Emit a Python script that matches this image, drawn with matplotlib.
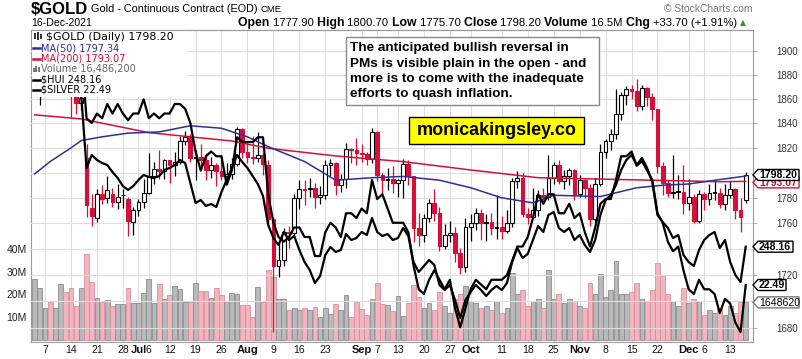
import matplotlib
matplotlib.use('Agg')
import matplotlib.pyplot as plt
from matplotlib.patches import Rectangle, Polygon
from matplotlib.ticker import FixedLocator, NullLocator
import pandas as pd

plt.rcParams['font.family'] = ['Liberation Sans', 'DejaVu Sans']

# trading days on the chart (exchange holidays removed)
dates = pd.bdate_range('2021-06-03', '2021-12-16')
dates = dates.drop(pd.to_datetime(['2021-07-05', '2021-09-06', '2021-11-25']))

opens = [1908, 1872, 1892, 1899, 1895, 1896, 1898, 1879, 1866, 1857,
         1812, 1772, 1764, 1783, 1780, 1783, 1777, 1782, 1779, 1761,
         1770, 1777, 1784, 1797, 1803, 1801, 1810, 1806, 1809, 1826,
         1829, 1812, 1813, 1810, 1802, 1806, 1801, 1797, 1799, 1807,
         1835, 1817, 1813, 1812, 1814, 1806, 1763, 1727, 1731, 1753,
         1752, 1780, 1787, 1787, 1788, 1781, 1782, 1806, 1808, 1790,
         1795, 1819, 1818, 1816, 1815, 1811, 1833, 1798, 1794, 1795,
         1792, 1794, 1807, 1797, 1756, 1751, 1764, 1776, 1768, 1742,
         1751, 1752, 1737, 1726, 1757, 1760, 1768, 1760, 1761, 1756,
         1757, 1754, 1760, 1793, 1796, 1767, 1765, 1770, 1782, 1781,
         1796, 1806, 1793, 1797, 1802, 1783, 1794, 1788, 1763, 1791,
         1817, 1826, 1831, 1848, 1863, 1868, 1867, 1854, 1869, 1862,
         1852, 1805, 1792, 1784, 1785, 1785, 1776, 1781, 1762, 1783,
         1779, 1784, 1784, 1775, 1782, 1787, 1770, 1777.9]
highs = [1910, 1894, 1903, 1904, 1903, 1904, 1900, 1881, 1869, 1866,
         1823, 1783, 1787, 1790, 1797, 1788, 1791, 1787, 1781, 1773,
         1779, 1795, 1816, 1809, 1818, 1811, 1810, 1817, 1830, 1834,
         1831, 1818, 1823, 1816, 1813, 1808, 1813, 1808, 1812, 1837,
         1836, 1824, 1830, 1833, 1816, 1810, 1765, 1745, 1756, 1758,
         1783, 1794, 1794, 1796, 1792, 1789, 1810, 1811, 1809, 1799,
         1824, 1820, 1828, 1823, 1817, 1836, 1834, 1800, 1804, 1805,
         1795, 1811, 1810, 1797, 1768, 1767, 1779, 1787, 1773, 1759,
         1762, 1757, 1741, 1764, 1767, 1772, 1771, 1767, 1768, 1782,
         1766, 1770, 1796, 1801, 1800, 1772, 1788, 1786, 1788, 1814,
         1809, 1810, 1802, 1804, 1803, 1798, 1795, 1791, 1796, 1823,
         1827, 1835, 1868, 1866, 1871, 1872, 1877, 1872, 1870, 1865,
         1852, 1809, 1794, 1814, 1798, 1806, 1795, 1783, 1786, 1785,
         1791, 1794, 1788, 1791, 1793, 1788, 1780, 1800.7]
lows = [1868, 1855, 1884, 1887, 1887, 1879, 1873, 1845, 1848, 1851,
        1765, 1758, 1761, 1775, 1776, 1773, 1771, 1772, 1750, 1751,
        1766, 1772, 1783, 1791, 1795, 1795, 1792, 1797, 1807, 1822,
        1809, 1794, 1805, 1794, 1796, 1789, 1794, 1791, 1795, 1805,
        1812, 1808, 1807, 1809, 1798, 1758, 1677, 1718, 1727, 1741,
        1750, 1771, 1774, 1781, 1772, 1775, 1779, 1797, 1782, 1785,
        1788, 1808, 1806, 1809, 1806, 1808, 1793, 1781, 1786, 1784,
        1781, 1780, 1790, 1745, 1742, 1745, 1761, 1762, 1738, 1740,
        1745, 1730, 1721, 1722, 1746, 1755, 1747, 1746, 1751, 1748,
        1748, 1752, 1757, 1788, 1765, 1759, 1764, 1766, 1776, 1778,
        1791, 1791, 1787, 1790, 1778, 1781, 1780, 1758, 1761, 1789,
        1812, 1818, 1827, 1843, 1855, 1860, 1850, 1851, 1854, 1843,
        1800, 1782, 1781, 1780, 1779, 1767, 1770, 1760, 1760, 1770,
        1774, 1778, 1772, 1770, 1780, 1763, 1753, 1775.7]
closes = [1873, 1892, 1899, 1894, 1896, 1900, 1879, 1866, 1857, 1861,
          1774, 1766, 1783, 1779, 1786, 1777, 1781, 1782, 1762, 1770,
          1777, 1784, 1797, 1803, 1801, 1810, 1806, 1809, 1826, 1829,
          1812, 1813, 1810, 1802, 1806, 1801, 1797, 1799, 1807, 1835,
          1817, 1813, 1812, 1814, 1807, 1763, 1727, 1731, 1753, 1752,
          1780, 1787, 1786, 1788, 1781, 1782, 1806, 1808, 1790, 1795,
          1819, 1818, 1816, 1815, 1811, 1833, 1798, 1794, 1795, 1792,
          1794, 1807, 1797, 1756, 1751, 1764, 1776, 1768, 1742, 1751,
          1752, 1737, 1726, 1757, 1760, 1768, 1760, 1761, 1756, 1757,
          1754, 1760, 1793, 1796, 1767, 1765, 1770, 1782, 1781, 1796,
          1806, 1793, 1797, 1802, 1783, 1794, 1788, 1763, 1791, 1817,
          1826, 1831, 1848, 1863, 1868, 1867, 1854, 1869, 1862, 1852,
          1805, 1792, 1784, 1785, 1785, 1776, 1781, 1762, 1783, 1779,
          1784, 1784, 1775, 1782, 1787, 1770, 1764.5, 1798.2]
volume_m = [27, 23, 14, 16.6, 14, 24.5, 21, 23, 15, 23,
            38, 25.4, 18.4, 16.6, 17.5, 15, 15.7, 15.7, 23, 16.3,
            16.3, 20.5, 27, 16.3, 24.5, 18, 19.7, 23.8, 22.3, 16.6,
            16.6, 25, 21.5, 21.5, 18.5, 23, 19.7, 17.2, 20.7, 20,
            15.3, 15.3, 10, 23.4, 16.6, 30.7, 27.8, 18, 18, 13,
            14, 13, 14, 13, 14.5, 10, 14, 11.3, 15.7, 13,
            19.8, 10, 16.6, 13.7, 11, 18, 25, 15.7, 15.3, 12.8,
            19.3, 10.5, 16, 24, 19, 14, 16, 13, 21, 15,
            12, 18, 20, 23.8, 17, 16, 14, 15, 13, 17,
            12, 14, 29.4, 20, 22, 15, 17, 18, 14, 30.6,
            18, 20, 16, 18, 17, 15, 14, 25, 20, 29,
            19, 22, 34.6, 20, 20, 21, 25, 18, 17, 22,
            34, 28, 20, 17, 15, 23, 16, 18, 17, 11,
            13, 12, 14, 11, 15, 12, 16.5, 16.486]

# moving averages (bar index, value)
ma50_idx = [0, 3, 7, 9, 13, 18, 24, 30, 36, 41, 45, 52, 58, 65, 71, 78, 84, 90, 96,
            100, 109, 116, 121, 126, 132, 137]
ma50_val = [1799, 1809, 1820, 1826, 1829, 1832, 1833, 1838, 1836, 1829, 1821, 1809,
            1794, 1796, 1797, 1794, 1788, 1780, 1776, 1782, 1781, 1788, 1790, 1791,
            1794.5, 1797.34]
ma200_idx = [0, 9, 22, 30, 38, 45, 58, 71, 84, 97, 132, 137]
ma200_val = [1847, 1843.6, 1832.4, 1829, 1825.6, 1819.7, 1813.5, 1808.9, 1802.2,
             1796, 1792.8, 1793.07]

hui = [334, 336, 335, 333, 332, 333, 330, 328, 325, 323,
       287.5, 294, 291.5, 290, 289, 285.5, 282.5, 278.5, 276.5, 278.5,
       281.5, 284, 283, 282.5, 283.5, 286.5, 287.5, 289, 291.5, 290,
       280, 270, 271.5, 268.5, 269.5, 268, 275.5, 281.5, 287.5, 294,
       290.5, 287.5, 283.5, 279.5, 273.5, 259, 252.5, 249, 255.5, 251.5,
       253.5, 246.5, 240.5, 236.5, 230, 233.5, 244, 248, 245.5, 246.5,
       254.5, 251.5, 252.5, 255.5, 254, 262.5, 255.5, 253.5, 254.5, 251.5,
       252.5, 257.5, 253.5, 240.5, 235.5, 238.5, 241.5, 239, 229, 226.5,
       229, 221.5, 212.5, 221.5, 225.5, 229, 226.5, 223.5, 226.5, 228.5,
       226.5, 230, 240.5, 247.5, 242.5, 244.5, 251.5, 258.5, 255.5, 264,
       265.5, 257.5, 255.5, 257.5, 251.5, 254, 249, 245.5, 251.5, 264,
       271.5, 274, 279, 286.5, 291.5, 294, 289, 292.5, 287.5, 280.5,
       264, 260.5, 257.5, 252.5, 254, 244, 240.5, 238.5, 246.5, 251.5,
       254, 255.5, 247.5, 251.5, 240.5, 234, 230.5, 248.16]
silver = [27.5, 27.9, 27.9, 27.7, 27.7, 28.0, 27.9, 27.9, 27.6, 27.4,
          26.0, 25.9, 26.1, 26.0, 26.3, 26.1, 26.3, 26.1, 25.96, 26.1,
          26.1, 26.4, 26.0, 26.1, 26.0, 26.1, 26.1, 26.3, 26.3, 26.2,
          25.9, 25.3, 24.9, 25.2, 25.3, 25.2, 25.2, 24.6, 24.9, 25.6,
          25.5, 25.5, 25.5, 25.6, 25.6, 24.4, 23.8, 23.5, 23.4, 23.5,
          23.7, 23.7, 23.5, 23.5, 23.1, 23.1, 23.6, 23.8, 23.7, 23.5,
          24.0, 24.0, 23.9, 24.1, 24.0, 24.7, 24.3, 24.4, 24.1, 23.8,
          23.8, 23.8, 23.6, 22.9, 22.4, 22.3, 22.6, 22.8, 22.6, 22.4,
          22.6, 22.0, 21.6, 22.0, 22.4, 22.6, 22.5, 22.4, 22.6, 22.6,
          22.6, 22.7, 23.0, 23.3, 23.3, 23.5, 23.9, 24.4, 24.2, 24.4,
          24.4, 24.0, 24.0, 24.2, 23.9, 24.0, 23.6, 23.3, 23.7, 24.2,
          24.3, 24.3, 24.7, 25.2, 25.2, 25.3, 25.0, 25.1, 24.9, 24.7,
          24.0, 23.8, 23.4, 23.2, 23.3, 22.8, 22.4, 22.3, 22.6, 22.4,
          22.4, 22.3, 21.9, 22.2, 22.1, 21.7, 21.5, 22.49]

price_ticks = list(range(1680, 1901, 20))
hidden_ticks = [1800, 1740, 1700]   # covered by the value tags
vol_ticks = [10, 20, 30, 40]

W, H = 803, 359
L, R, T, B = 31, 753, 30, 342
RED = '#d4103a'
BLUE = '#2e2e9a'

fig = plt.figure(figsize=(W / 100, H / 100), dpi=100)
rect = [L / W, 1 - B / H, (R - L) / W, (B - T) / H]
ax_vol = fig.add_axes(rect)
ax = fig.add_axes(rect, sharex=ax_vol)
ax_hui = fig.add_axes(rect, sharex=ax_vol)
ax_slv = fig.add_axes(rect, sharex=ax_vol)
for a in (ax, ax_hui, ax_slv):
    a.patch.set_visible(False)
for a in (ax_vol, ax, ax_hui, ax_slv):
    for s in a.spines.values():
        s.set_visible(a is ax_vol)
        s.set_color('#9a9a9a')
        s.set_linewidth(0.8)

n = len(closes)
x = list(range(n))
up = [True] + [closes[i] >= closes[i - 1] for i in range(1, n)]

# volume
vcol = ['#b9b9b9' if u else '#f2b5c0' for u in up]
vedge = ['#8c8c8c' if u else '#d98e9c' for u in up]
ax_vol.bar(x, volume_m, width=0.92, color=vcol, edgecolor=vedge, linewidth=0.6, zorder=2)
ax_vol.set_ylim(-1.0, 136.6)
ax_vol.yaxis.set_major_locator(FixedLocator(vol_ticks))
ax_vol.set_yticklabels([f'{v}M' for v in vol_ticks])
ax_vol.tick_params(axis='y', length=0, pad=3, labelsize=7.5, labelcolor='#222222')
ax_vol.set_xlim(-0.7, 138.4)

# x ticks: week starts and month starts
month_i = [i for i in range(1, n) if dates[i].month != dates[i - 1].month]
week_i = [i for i in range(1, n) if dates[i].isocalendar()[1] != dates[i - 1].isocalendar()[1]]
ticks, labels, bolds = [], [], []
for i in sorted(set(month_i) | set(week_i)):
    if i in month_i:
        ticks.append(i); labels.append(dates[i].strftime('%b')); bolds.append(True)
        continue
    near = any(0 < m - i <= 2 or 0 <= i - m < 2 for m in month_i)
    if not near:
        ticks.append(i); labels.append(str(dates[i].day)); bolds.append(False)
ax_vol.xaxis.set_major_locator(FixedLocator(ticks))
ax_vol.set_xticklabels(labels)
for lab, b in zip(ax_vol.get_xticklabels(), bolds):
    lab.set_fontweight('bold' if b else 'normal')
    lab.set_fontsize(8 if b else 7.5)
ax_vol.tick_params(axis='x', length=0, pad=2, labelcolor='#111111')
ax_vol.grid(axis='x', color='#dedede', linewidth=0.8, zorder=0)
ax_vol.set_axisbelow(True)

# price
ax.set_yscale('log')
ax.set_ylim(1669.3, 1918.1)
ax.yaxis.set_major_locator(FixedLocator(price_ticks))
ax.yaxis.set_minor_locator(NullLocator())
ax.set_yticklabels(['' if p in hidden_ticks else str(p) for p in price_ticks])
ax.yaxis.tick_right()
ax.tick_params(axis='y', length=3, width=0.6, color='#9a9a9a', pad=14, labelsize=7, labelcolor='#333333')
ax.tick_params(axis='x', bottom=False, labelbottom=False)
ax.grid(axis='y', color='#dedede', linewidth=0.8, zorder=0)

for i in range(n):
    c = '#000000' if up[i] else RED
    ax.vlines(i, lows[i], highs[i], color=c, linewidth=0.9, zorder=3)
    lo, hi = min(opens[i], closes[i]), max(opens[i], closes[i])
    if hi - lo < 0.6:
        hi = lo + 0.6
    filled = closes[i] < opens[i]
    ax.add_patch(Rectangle((i - 0.36, lo), 0.72, hi - lo, facecolor=c if filled else 'white',
                           edgecolor=c, linewidth=0.8, zorder=4))

ax.plot(ma200_idx, ma200_val, color=RED, linewidth=1.1, zorder=5)
ax.plot(ma50_idx, ma50_val, color=BLUE, linewidth=1.1, zorder=5)

# overlays with their own scales
ax_hui.set_ylim(200.5, 356.5)
ax_slv.set_ylim(22.49 - (B - 285) / 47.5, 22.49 + (285 - T) / 47.5)
ax_hui.plot(x, hui, color='black', linewidth=1.6, zorder=6)
ax_slv.plot(x, silver, color='black', linewidth=1.6, zorder=6)
for a in (ax_hui, ax_slv):
    a.set_yticks([])
    a.tick_params(axis='x', bottom=False, labelbottom=False)

# overlay in pixel coordinates for header, legend, notes and tags
ov = fig.add_axes([0, 0, 1, 1])
ov.set_xlim(0, W)
ov.set_ylim(H, 0)
ov.axis('off')
ov.patch.set_visible(False)
rend = fig.canvas.get_renderer()


def pix_y(a, v):
    return H - a.transData.transform((0, v))[1]


def run(x0, y0, parts):
    for s, kw in parts:
        t = ov.text(x0, y0, s, va='center', ha='left', **kw)
        x0 += t.get_window_extent(renderer=rend).width
    return x0


# header
run(31, 9.5, [('$GOLD', dict(fontsize=12, fontweight='bold')),
              (' Gold - Continuous Contract (EOD) ', dict(fontsize=7.8)),
              ('CME', dict(fontsize=6.8))])
ov.text(31, 23, '16-Dec-2021', fontsize=7.6, va='center', ha='left')
bold8 = dict(fontsize=8.8, fontweight='bold')
reg = dict(fontsize=8.1)
run(238, 23, [('Open ', bold8), ('1777.90 ', reg), ('High ', bold8), ('1800.70 ', reg),
              ('Low ', bold8), ('1775.70 ', reg), ('Close ', bold8), ('1798.20 ', reg),
              ('Volume ', bold8), ('16.5M ', reg), ('Chg ', bold8), ('+33.70 (+1.91%) ', reg),
              ('\u25b2', dict(fontsize=5.5, color='#2f8f2f', family='DejaVu Sans'))])
ov.text(753, 9.5, '\u00a9 StockCharts.com', fontsize=7.4, color='#777777', va='center', ha='right')
ov.plot([L, R], [T, T], color='#9a9a9a', linewidth=0.8)

# legend box
ov.add_patch(Rectangle((L + 0.6, T + 0.6), 155, 66, facecolor='white', edgecolor='none', zorder=1))
ov.add_patch(Rectangle((34, 33), 1.6, 6, facecolor='#333333', zorder=2))
ov.add_patch(Rectangle((37, 31.5), 1.6, 8, facecolor='#333333', zorder=2))
ov.add_patch(Rectangle((40, 34), 1.6, 5, facecolor='#333333', zorder=2))
ov.text(46, 36.5, '$GOLD (Daily) 1798.20', fontsize=7.9, family='DejaVu Sans', va='center')
leg = [('MA(50) 1797.34', BLUE), ('MA(200) 1793.07', RED), ('Volume 16,486,200', '#666666'),
       ('$HUI 248.16', 'black'), ('$SILVER 22.49', 'black')]
for j, (s, c) in enumerate(leg):
    yy = 48.3 + j * 10.4
    if s.startswith('Volume'):
        for dx, hh in ((33, 4), (35.5, 6), (38, 5)):
            ov.add_patch(Rectangle((dx, yy + 3 - hh), 1.8, hh, facecolor='#777777', zorder=2))
    else:
        ov.plot([33, 40], [yy, yy], color=c, linewidth=1.8, zorder=2)
    ov.text(41, yy, s, fontsize=7.0, color=c, va='center', family='DejaVu Sans', zorder=3)

# comment box
ov.add_patch(Rectangle((346.5, 37), 253, 68, facecolor='white', edgecolor='#888888', linewidth=1, zorder=5))
note = ['The anticipated bullish reversal in', 'PMs is visible plain in the open - and',
        'more is to come with the inadequate', 'efforts to quash inflation.']
for j, s in enumerate(note):
    ov.text(350, 48.5 + j * 15.2, s, fontsize=9.7, fontweight='bold', va='center', zorder=6)
ov.add_patch(Rectangle((409, 117), 175, 26.5, facecolor='#ffff00', edgecolor='black', linewidth=1, zorder=5))
ov.text(496.5, 130.5, 'monicakingsley.co', fontsize=13, fontweight='bold', ha='center', va='center', zorder=6)


# value tags on the right edge
def tag(yp, s, ec, tc='black', bold=True, w=46, z=7):
    h = 11
    ov.add_patch(Polygon([(R, yp), (R + 5, yp - h / 2), (R + w, yp - h / 2), (R + w, yp + h / 2),
                          (R + 5, yp + h / 2)], closed=True, facecolor='white', edgecolor=ec,
                         linewidth=1, zorder=z))
    ov.text(R + 6, yp + 0.5, s, fontsize=7.6, color=tc, fontweight='bold' if bold else 'normal',
            va='center', ha='left', zorder=z + 1)


# the MA(200) tag sits at its own level, half hidden behind the close tag
tag(pix_y(ax, ma200_val[-1]) + 1, '1793.07', RED, tc=RED, z=7)
tag(pix_y(ax, closes[-1]), '1798.20', 'black', z=9)
tag(pix_y(ax_hui, hui[-1]), '248.16', 'black', w=40)
tag(pix_y(ax_slv, silver[-1]), '22.49', 'black', w=33)
tag(pix_y(ax_vol, volume_m[-1]), '1648620', '#777777', bold=False, w=46)

fig.savefig('out.png', dpi=100)
